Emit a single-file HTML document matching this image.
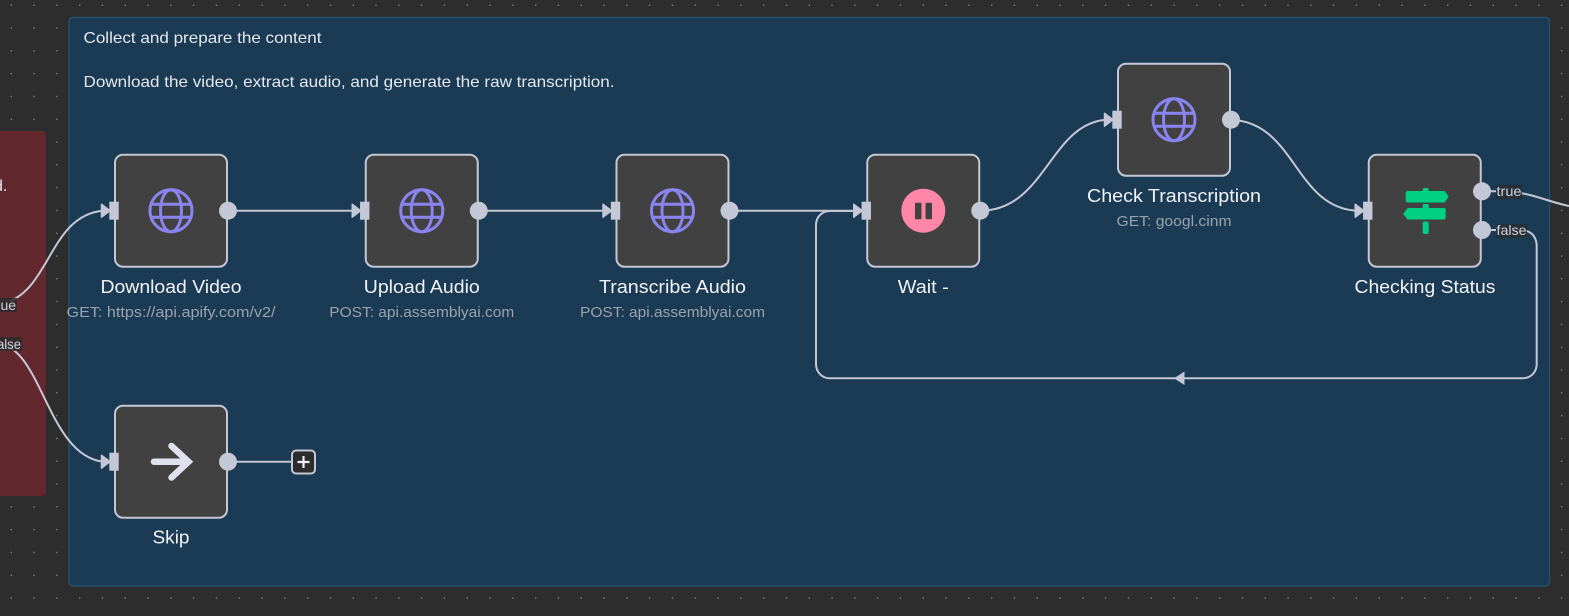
<!DOCTYPE html>
<html><head><meta charset="utf-8">
<style>
html,body{margin:0;padding:0;background:#2d2d2d;width:1569px;height:616px;overflow:hidden}
svg{display:block}
text{font-family:"Liberation Sans",sans-serif}
.t{font-size:18px;fill:#f0f3f8;text-anchor:middle}
.s{font-size:15px;fill:#98a3b2;text-anchor:middle}
.g{font-size:16px;fill:#e4e8ef}
.l{font-size:13px;fill:#cfd2da}
.e{fill:none;stroke:#c4c8d6;stroke-width:2}
.n{fill:#414141;stroke:#c4c8d6;stroke-width:2}
.p{fill:#c4c8d6}
.gl{fill:none;stroke:#8a84ee;stroke-width:3}
</style></head>
<body>
<svg width="1569" height="616" viewBox="0 0 1569 616" xmlns="http://www.w3.org/2000/svg">
<defs>
<pattern id="d" x="0" y="0" width="22.8" height="22.8" patternUnits="userSpaceOnUse" patternTransform="translate(-0.4,-6.4)">
<rect x="11" y="11" width="1.3" height="1.3" fill="#8d8d92"/>
</pattern>
<g id="globe">
<circle cx="0" cy="0" r="21" class="gl"/>
<ellipse cx="0" cy="0" rx="10.500" ry="21" class="gl"/>
<path d="M-19-6.500H19M-19 6.500H19" class="gl"/>
</g>
<g id="in">
<rect x="-5.700" y="-9" width="9.400" height="18" class="p"/>
<path d="M-13.500-6.500L-5 0L-13.500 6.500Z" class="p" stroke="#c4c8d6" stroke-width="1.500" stroke-linejoin="round"/>
</g>
</defs>
<rect width="1569" height="616" fill="#2d2d2d"/>
<rect width="1569" height="616" fill="url(#d)"/>

<rect x="-20" y="131" width="66" height="365" rx="4" fill="#63272e"/>
<text x="-6" y="191" class="g">d.</text>

<rect x="69" y="17.500" width="1480.500" height="568.500" rx="4" fill="#1b3a53" stroke="#254f6e" stroke-width="1.500"/>
<text x="83.500" y="43" class="g" textLength="238" lengthAdjust="spacingAndGlyphs">Collect and prepare the content</text>
<text x="83.500" y="87" class="g" textLength="531" lengthAdjust="spacingAndGlyphs">Download the video, extract audio, and generate the raw transcription.</text>

<!-- edges -->
<path class="e" d="M10 301C50 285 52 215 103 210.700"/>
<path class="e" d="M0 344C42 350 48 455 103 461.700"/>
<path class="e" d="M228 210.700H355M478.700 210.700H606M729.500 210.700H857"/>
<path class="e" d="M980 210.700C1045 211 1050 124 1106 119.700"/>
<path class="e" d="M1231 119.700C1295 122 1295 207 1356 210.700"/>
<path class="e" d="M1482 191.300H1496M1520 193C1535 195 1550 202 1569 206"/>
<path class="e" d="M1482 230H1496M1526 231C1532 232 1536.700 238 1536.700 246V364C1536.700 372 1531 378.300 1522 378.300H830C822 378.300 816 372 816 364V225C816 217 822 211 830 211H857"/>
<path class="p" d="M1174 378.300L1184.500 371.500V385Z"/>
<path class="e" d="M228 461.700H292"/>

<!-- left labels -->
<rect x="0" y="298" width="17" height="14" fill="#2d2d2d" fill-opacity=".85"/>
<text x="0.500" y="310" class="l" style="font-size:14px">ue</text>
<rect x="0" y="337" width="22" height="14" fill="#2d2d2d" fill-opacity=".85"/>
<text x="-3" y="349" class="l" style="font-size:14px" textLength="24" lengthAdjust="spacingAndGlyphs">alse</text>

<!-- Download Video -->
<rect x="115" y="154.700" width="112" height="112" rx="8" class="n"/>
<use href="#globe" x="171" y="210.700"/>
<use href="#in" x="115" y="210.700"/>
<circle cx="228" cy="210.700" r="9" class="p"/>
<text x="171" y="293" class="t" textLength="141" lengthAdjust="spacingAndGlyphs">Download Video</text>
<text x="171" y="317" class="s" textLength="209" lengthAdjust="spacingAndGlyphs">GET: https://api.apify.com/v2/</text>

<!-- Upload Audio -->
<rect x="365.750" y="154.700" width="112" height="112" rx="8" class="n"/>
<use href="#globe" x="421.750" y="210.700"/>
<use href="#in" x="365.750" y="210.700"/>
<circle cx="478.750" cy="210.700" r="9" class="p"/>
<text x="421.750" y="293" class="t" textLength="116" lengthAdjust="spacingAndGlyphs">Upload Audio</text>
<text x="421.750" y="317" class="s" textLength="185" lengthAdjust="spacingAndGlyphs">POST: api.assemblyai.com</text>

<!-- Transcribe Audio -->
<rect x="616.500" y="154.700" width="112" height="112" rx="8" class="n"/>
<use href="#globe" x="672.500" y="210.700"/>
<use href="#in" x="616.500" y="210.700"/>
<circle cx="729.500" cy="210.700" r="9" class="p"/>
<text x="672.500" y="293" class="t" textLength="147" lengthAdjust="spacingAndGlyphs">Transcribe Audio</text>
<text x="672.500" y="317" class="s" textLength="185" lengthAdjust="spacingAndGlyphs">POST: api.assemblyai.com</text>

<!-- Wait -->
<rect x="867.250" y="154.700" width="112" height="112" rx="8" class="n"/>
<circle cx="923.300" cy="210.700" r="22" fill="#ff86a6"/>
<rect x="915" y="202.700" width="6.500" height="16.500" rx="1" fill="#414141"/>
<rect x="925.500" y="202.700" width="6.500" height="16.500" rx="1" fill="#414141"/>
<use href="#in" x="867.250" y="210.700"/>
<circle cx="980.250" cy="210.700" r="9" class="p"/>
<text x="923.250" y="293" class="t" textLength="51" lengthAdjust="spacingAndGlyphs">Wait -</text>

<!-- Check Transcription -->
<rect x="1118" y="63.700" width="112" height="112" rx="8" class="n"/>
<use href="#globe" x="1174" y="119.700"/>
<use href="#in" x="1118" y="119.700"/>
<circle cx="1231" cy="119.700" r="9" class="p"/>
<text x="1174" y="202" class="t" textLength="174" lengthAdjust="spacingAndGlyphs">Check Transcription</text>
<text x="1174" y="226" class="s" textLength="115" lengthAdjust="spacingAndGlyphs">GET: googl.cinm</text>

<!-- Checking Status -->
<rect x="1368.750" y="154.700" width="112" height="112" rx="8" class="n"/>
<g fill="#00d084" transform="translate(0.700,0)">
<rect x="1422" y="188" width="6" height="8" rx="2"/>
<rect x="1422" y="204" width="6" height="6" rx="1"/>
<rect x="1422" y="221.500" width="6" height="12.500" rx="2"/>
<path d="M1407 191H1444L1448 196.500L1444 202.500H1407Q1405 202.500 1405 200.500V193Q1405 191 1407 191Z"/>
<path d="M1407 208H1443Q1445 208 1445 210V217.500Q1445 219.500 1443 219.500H1407L1402.500 214Z"/>
</g>
<use href="#in" x="1368.750" y="210.700"/>
<circle cx="1482" cy="191.300" r="9" class="p"/>
<circle cx="1482" cy="230" r="9" class="p"/>
<rect x="1496" y="185" width="26" height="14" fill="#2d2d2d" fill-opacity=".75"/>
<text x="1496.500" y="196" class="l" style="font-size:14px" textLength="25" lengthAdjust="spacingAndGlyphs">true</text>
<rect x="1496" y="224" width="31" height="14" fill="#2d2d2d" fill-opacity=".75"/>
<text x="1496.500" y="235" class="l" style="font-size:14px" textLength="30" lengthAdjust="spacingAndGlyphs">false</text>
<text x="1425" y="293" class="t" textLength="141" lengthAdjust="spacingAndGlyphs">Checking Status</text>

<!-- Skip -->
<rect x="115" y="405.700" width="112" height="112" rx="8" class="n"/>
<path d="M154 461.700H188M171.500 446L188.500 461.700L171.500 477.500" fill="none" stroke="#dfe2ec" stroke-width="6.500" stroke-linecap="round" stroke-linejoin="miter"/>
<use href="#in" x="115" y="461.700"/>
<circle cx="228" cy="461.700" r="9" class="p"/>
<rect x="292" y="450.500" width="23" height="23" rx="4" fill="#2d2d2d" stroke="#c4c8d6" stroke-width="2"/>
<path d="M297.500 462H309.500M303.500 456V468" stroke="#eef0f5" stroke-width="2.200" fill="none"/>
<text x="171" y="543.500" class="t" textLength="37" lengthAdjust="spacingAndGlyphs">Skip</text>
</svg>
</body></html>
